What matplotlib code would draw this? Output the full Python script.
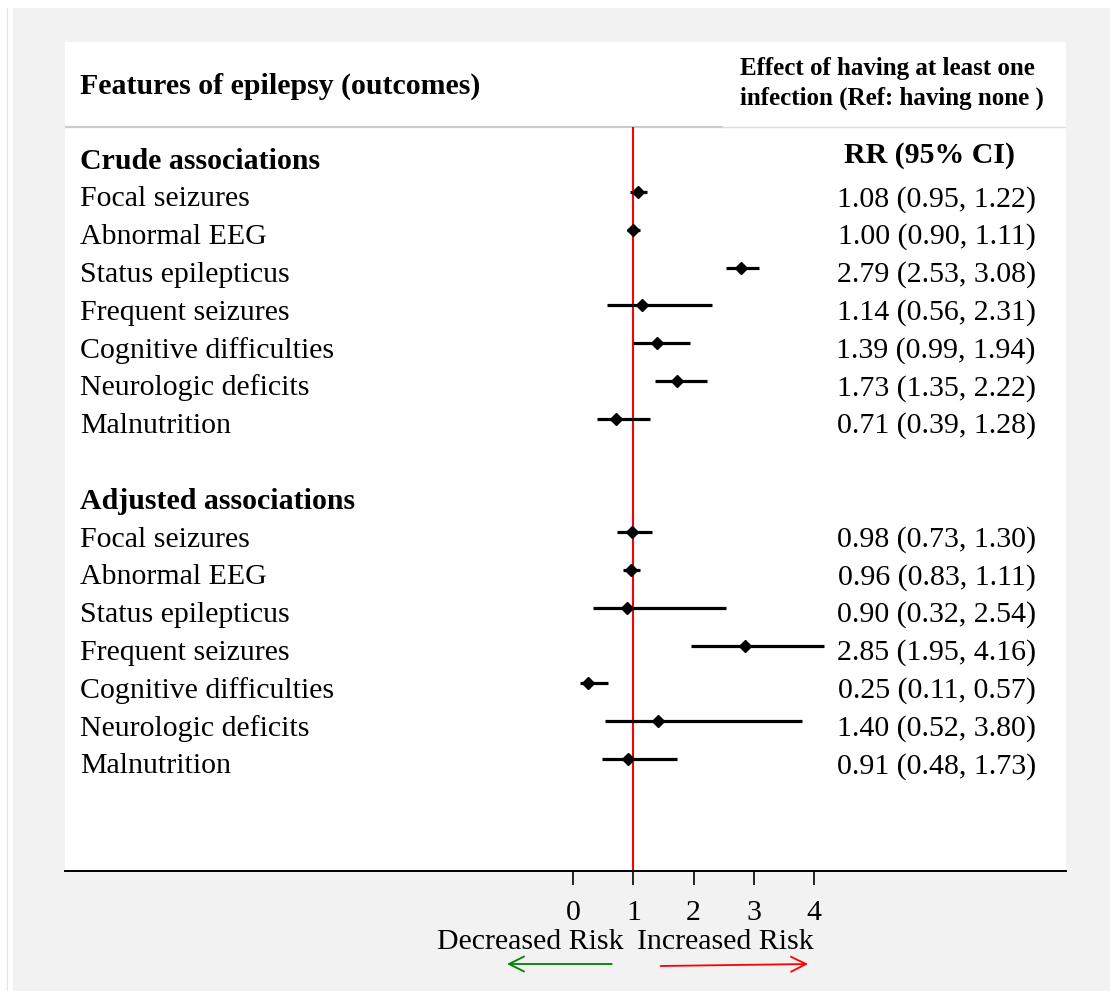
import matplotlib
matplotlib.use('Agg')
import matplotlib.pyplot as plt
from matplotlib.patches import Rectangle
from matplotlib.lines import Line2D

plt.rcParams['font.family'] = ['Liberation Serif', 'DejaVu Serif']

outcomes = ["Focal seizures", "Abnormal EEG", "Status epilepticus", "Frequent seizures",
            "Cognitive difficulties", "Neurologic deficits", "Malnutrition"]
crude_rr = [1.08, 1.00, 2.79, 1.14, 1.39, 1.73, 0.71]
crude_lo = [0.95, 0.90, 2.53, 0.56, 0.99, 1.35, 0.39]
crude_hi = [1.22, 1.11, 3.08, 2.31, 1.94, 2.22, 1.28]
adj_rr = [0.98, 0.96, 0.90, 2.85, 0.25, 1.40, 0.91]
adj_lo = [0.73, 0.83, 0.32, 1.95, 0.11, 0.52, 0.48]
adj_hi = [1.30, 1.11, 2.54, 4.16, 0.57, 3.80, 1.73]
xticks = [0, 1, 2, 3, 4]
ref_value = 1
sections = ["Crude associations", "Adjusted associations"]

W, H = 1110, 991
fig = plt.figure(figsize=(W / 100, H / 100), dpi=100, facecolor='white')
# gray panel background
fig.add_artist(Rectangle((13 / W, 0), 1 - 13 / W, 1 - 8 / H, transform=fig.transFigure,
                         facecolor='#f2f2f2', edgecolor='none', zorder=0))
fig.add_artist(Line2D([7 / W, 7 / W], [0, 1 - 8 / H], transform=fig.transFigure,
                      color='#e4e4e4', lw=0.8, zorder=0))

ax_l, ax_r, ax_t, ax_b = 65, 1066, 42, 871
ax = fig.add_axes([ax_l / W, 1 - ax_b / H, (ax_r - ax_l) / W, (ax_b - ax_t) / H])
ax.set_facecolor('white')

px_per_unit = 60.2
x0_px = 573.3
ax.set_xlim((ax_l - x0_px) / px_per_unit, 4 + (ax_r - 814) / px_per_unit)
row0_px, row_h = 192, 37.8
ax.set_ylim((ax_b - row0_px) / row_h, (ax_t - row0_px) / row_h)

fs = 21.5
base_off = 0.38
tr = ax.get_yaxis_transform()

groups = [(sections[0], 0, crude_rr, crude_lo, crude_hi),
          (sections[1], 9, adj_rr, adj_lo, adj_hi)]
for title, start, rr, lo, hi in groups:
    rows = [start + i for i in range(len(outcomes))]
    ax.hlines(rows, lo, hi, color='black', lw=2.3, zorder=3)
    ax.plot(rr, rows, 'D', color='black', ms=6.5, zorder=4)
    ax.text(0.015, start - 1 + base_off, title, transform=tr, fontsize=fs,
            fontweight='bold', ha='left', va='baseline')
    for r, name, v, l, h in zip(rows, outcomes, rr, lo, hi):
        ax.text(0.015, r + base_off, name, transform=tr, fontsize=fs,
                ha='left', va='baseline')
        ax.text(0.970, r + base_off, f"{v:.2f} ({l:.2f}, {h:.2f})", transform=tr,
                fontsize=fs, ha='right', va='baseline')

# header
sep_y = (127 - row0_px) / row_h
ax.plot([0, 0.656], [sep_y, sep_y], transform=tr, color='#cccccc', lw=1.6, zorder=2)
ax.plot([0.656, 1], [sep_y, sep_y], transform=tr, color='#dedede', lw=1.0, zorder=2)
ax.text(0.015, (94 - row0_px) / row_h, "Features of epilepsy (outcomes)", transform=tr,
        fontsize=fs, fontweight='bold', ha='left', va='baseline')
ax.text(0.674, (75 - row0_px) / row_h, "Effect of having at least one", transform=tr,
        fontsize=18, fontweight='bold', ha='left', va='baseline')
ax.text(0.674, (105 - row0_px) / row_h, "infection (Ref: having none )", transform=tr,
        fontsize=18, fontweight='bold', ha='left', va='baseline')
ax.text(0.864, (163 - row0_px) / row_h, "RR (95% CI)", transform=tr,
        fontsize=fs, fontweight='bold', ha='center', va='baseline')

# reference line
ax.vlines(ref_value, sep_y, ax.get_ylim()[0], color='red', lw=1.5, zorder=2)

# axes styling
for s in ['top', 'left', 'right']:
    ax.spines[s].set_visible(False)
ax.spines['bottom'].set_color('black')
ax.spines['bottom'].set_linewidth(1.4)
ax.set_yticks([])
ax.set_xticks(xticks)
ax.set_xticklabels([str(t) for t in xticks], fontsize=fs)
ax.tick_params(axis='x', direction='out', length=10, width=1.2, pad=11, color='black')

# risk annotations
ax.annotate("Decreased Risk", xy=(-0.71, H - 949), xycoords=('data', 'figure pixels'),
            fontsize=fs, ha='center', va='baseline', annotation_clip=False)
ax.annotate("Increased Risk", xy=(2.53, H - 949), xycoords=('data', 'figure pixels'),
            fontsize=fs, ha='center', va='baseline', annotation_clip=False)
ax.annotate("", xy=(-1.10, H - 964), xytext=(0.64, H - 964),
            xycoords=('data', 'figure pixels'), textcoords=('data', 'figure pixels'),
            arrowprops=dict(arrowstyle='->', color='green', lw=1.3, mutation_scale=27,
                            shrinkA=0, shrinkB=0), annotation_clip=False)
ax.annotate("", xy=(3.90, H - 964), xytext=(1.45, H - 966),
            xycoords=('data', 'figure pixels'), textcoords=('data', 'figure pixels'),
            arrowprops=dict(arrowstyle='->', color='red', lw=1.3, mutation_scale=27,
                            shrinkA=0, shrinkB=0), annotation_clip=False)

fig.savefig('out.png', dpi=100, facecolor=fig.get_facecolor())
